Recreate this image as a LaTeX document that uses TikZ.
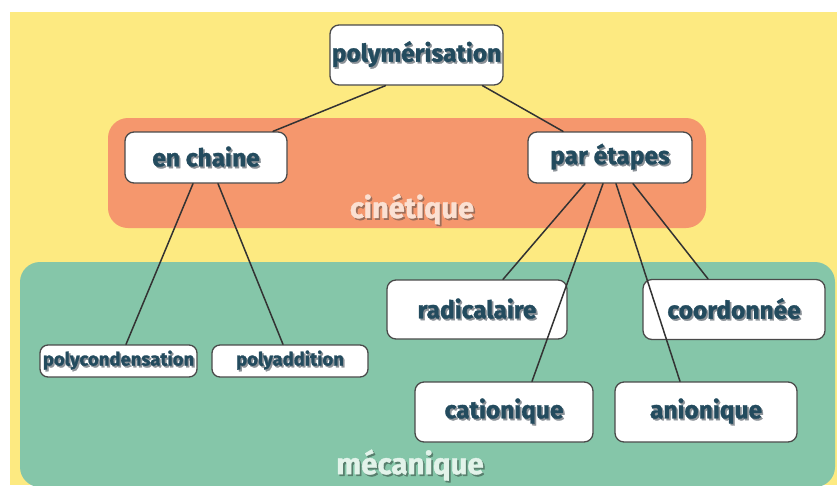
\documentclass[tikz,border=0pt]{standalone}
\usepackage{fontspec}
\setmainfont{Fira Sans}[BoldFeatures={FakeBold=1.3}]
\usepackage{tikz}
\definecolor{fondjaune}{HTML}{FDEA81}
\definecolor{fondorange}{HTML}{F5976D}
\definecolor{fondvert}{HTML}{85C6A9}
\definecolor{bordboite}{HTML}{4A4A4A}
\definecolor{texteboite}{HTML}{234B5E}
\definecolor{ombreboite}{HTML}{8C9298}
\definecolor{texteorange}{HTML}{FBE0D2}
\definecolor{ombreorange}{HTML}{9C6E5A}
\definecolor{textevert}{HTML}{E2F3EA}
\definecolor{ombrevert}{HTML}{577F6D}
\newcommand{\ombre}[2]{\rlap{\hspace{1.6pt}\raisebox{-1.8pt}{\textcolor{#1}{#2}}}#2}

\begin{document}
\begin{tikzpicture}[line cap=round,line join=round,x=1pt,y=-1pt,
    boite/.style={draw=bordboite,line width=1.3pt,fill=white,rounded corners=9pt,inner sep=0pt,text=texteboite,font=\fontsize{24.5}{28}\selectfont\bfseries},
    petiteboite/.style={boite,rounded corners=8pt,font=\fontsize{18.5}{21}\selectfont\bfseries},
    lien/.style={draw=black!80,line width=1.5pt}]
        \useasboundingbox (0,0) rectangle (837,485);
        \fill [color=fondjaune] (10,12) rectangle (837,485);
        \fill [color=fondorange,rounded corners=20pt] (108,118) rectangle (706,228);
        \fill [color=fondvert,rounded corners=20pt] (20,262) rectangle (835,487);
        \node [text=texteorange,font=\fontsize{29}{32}\selectfont\bfseries] (cinetique) at (412,210) {\ombre{ombreorange}{cinétique}};
        \node [text=textevert,font=\fontsize{29.5}{32}\selectfont\bfseries] (mecanique) at (410,466) {\ombre{ombrevert}{mécanique}};
        \node [boite,minimum width=173pt,minimum height=60pt] (polymerisation) at (416.5,55) {\ombre{ombreboite}{polymérisation}};
        \node [boite,minimum width=162pt,minimum height=51pt] (enchaine) at (206,157.5) {\ombre{ombreboite}{en chaine}};
        \node [boite,minimum width=164pt,minimum height=51pt] (paretapes) at (610,157.5) {\ombre{ombreboite}{par étapes}};
        \node [petiteboite,minimum width=157pt,minimum height=32pt] (polycondensation) at (118.5,361) {\ombre{ombreboite}{polycondensation}};
        \node [petiteboite,minimum width=156pt,minimum height=32pt] (polyaddition) at (290,361) {\ombre{ombreboite}{polyaddition}};
        \node [boite,minimum width=180pt,minimum height=59pt] (radicalaire) at (477,309.5) {\ombre{ombreboite}{radicalaire}};
        \node [boite,minimum width=182pt,minimum height=60pt] (coordonnee) at (734,309.5) {\ombre{ombreboite}{coordonnée}};
        \node [boite,minimum width=178pt,minimum height=60pt] (cationique) at (504,412) {\ombre{ombreboite}{cationique}};
        \node [boite,minimum width=182pt,minimum height=60pt] (anionique) at (706,412) {\ombre{ombreboite}{anionique}};
        \draw [lien] ([xshift=-31pt]polymerisation.south) -- ([xshift=67pt]enchaine.north);
        \draw [lien] ([xshift=66pt]polymerisation.south) -- ([xshift=-47pt]paretapes.north);
        \draw [lien] ([xshift=-13pt]enchaine.south) -- ([xshift=7.5pt]polycondensation.north);
        \draw [lien] ([xshift=12pt]enchaine.south) -- ([xshift=-7pt]polyaddition.north);
        \draw [lien] ([xshift=-25pt]paretapes.south) -- ([xshift=26pt]radicalaire.north);
        \draw [lien] ([xshift=-7pt]paretapes.south) -- ([xshift=28pt]cationique.north);
        \draw [lien] ([xshift=6pt]paretapes.south) -- ([xshift=-26pt]anionique.north);
        \draw [lien] ([xshift=23pt]paretapes.south) -- ([xshift=-26pt]coordonnee.north);
    \end{tikzpicture}
\end{document}
